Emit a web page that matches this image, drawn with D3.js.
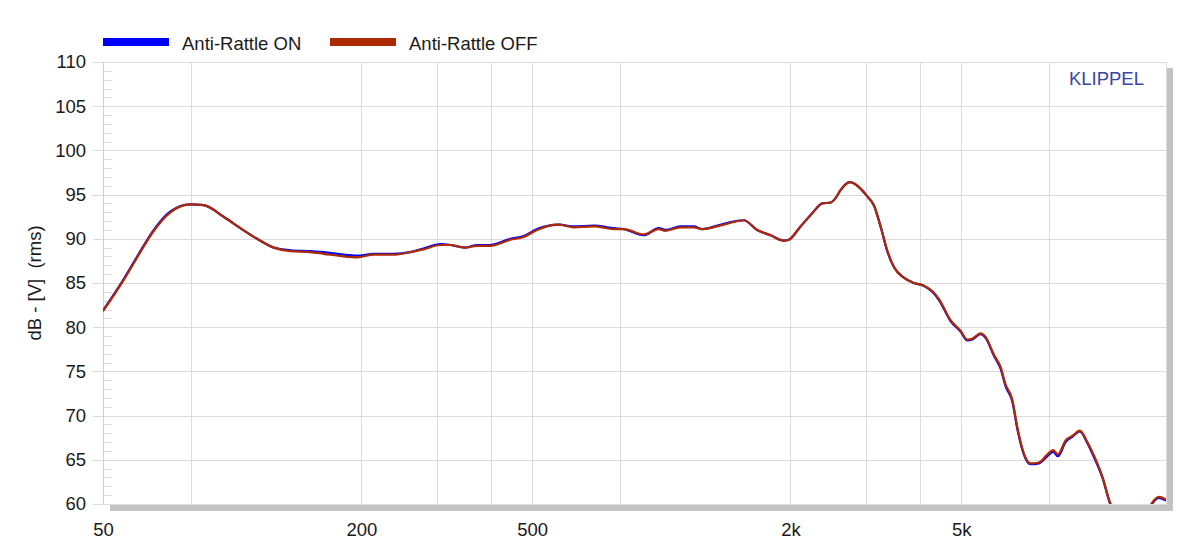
<!DOCTYPE html>
<html><head><meta charset="utf-8">
<script src="https://cdn.jsdelivr.net/npm/d3@7"></script>
<style>
html,body{margin:0;padding:0;background:#fff;}
svg{display:block;font-family:"Liberation Sans",Arial,sans-serif;}
</style></head>
<body>
<svg id="chart" width="1179" height="543"></svg>
<script>
const freqs = [50,55.8,61.1,65,71.8,79.9,85.8,95.5,104.5,114.3,125,136.7,152,163.4,182,195.5,213.7,238,260,279,305.7,322.5,349.5,372,399.5,445,478,513.5,576.6,625,696,775,817.6,910,986,1023,1108,1190,1245,1398,1557,1672,1797,1930,1982,2111,2248,2371,2479,2547,2616,2750,2862,3020,3128,3243,3361,3483,3674,3876,4090,4279,4433,4720,4981,5166,5306,5545,5696,5955,6175,6344,6576,6754,6997,7252,7583,7933,8193,8398,8752,9072,9450,9833,10190,10660,11140,11750,12740,13440,13860,14440,15000];
const offValues = [81.8,85.3,88.5,90.6,93.0,93.9,93.8,92.5,91.2,90.0,89.0,88.6,88.5,88.3,88.0,87.9,88.2,88.2,88.5,88.8,89.3,89.3,89.0,89.2,89.2,89.9,90.2,91.0,91.6,91.3,91.4,91.1,91.1,90.5,91.1,90.9,91.3,91.3,91.1,91.6,92.1,91.0,90.4,89.8,89.9,91.4,92.9,94.0,94.1,94.6,95.5,96.4,96.0,94.8,93.8,91.4,88.7,86.8,85.6,85.0,84.7,84.1,83.2,80.8,79.6,78.6,78.7,79.3,78.9,76.9,75.5,73.5,71.8,68.7,65.7,64.6,64.7,65.6,66.1,65.6,67.2,67.7,68.3,67.0,65.5,63.1,60.0,58.5,57.5,58.8,60.0,60.8,60.5];
const onValues = [81.9,85.4,88.6,90.7,93.1,93.9,93.8,92.5,91.2,90.0,89.0,88.7,88.6,88.5,88.2,88.1,88.3,88.3,88.5,88.9,89.4,89.3,89.0,89.3,89.3,90.0,90.3,91.1,91.6,91.4,91.5,91.2,91.1,90.4,91.2,91.0,91.4,91.4,91.1,91.7,92.1,91.0,90.4,89.8,89.9,91.4,92.9,94.0,94.1,94.6,95.5,96.4,96.0,94.8,93.8,91.4,88.6,86.8,85.6,85.0,84.7,84.0,83.1,80.7,79.5,78.5,78.6,79.2,78.8,76.8,75.3,73.3,71.6,68.5,65.6,64.5,64.6,65.4,65.9,65.4,67.0,67.6,68.2,66.9,65.3,63.0,59.9,58.4,57.4,58.7,59.9,60.7,60.4];
const yTicks = [60,65,70,75,80,85,90,95,100,105,110];
const xGrid = [80,200,300,400,500,800,2000,3000,4000,5000,8000];
const xLabels = [[50,"50"],[200,"200"],[500,"500"],[2000,"2k"],[5000,"5k"]];
const seriesNames = ["Anti-Rattle ON","Anti-Rattle OFF"];
const seriesColors = ["#0000ff","#ad2a00"];

const FS = 18.5;
const L=103, R=1166, T=62, B=504;
const svg = d3.select("#chart");
const x = d3.scaleLog().domain([50,15000]).range([L,R]);
const y = d3.scaleLinear().domain([60,110]).range([B,T]);

// shadow
svg.append("rect").attr("x",110).attr("y",505).attr("width",R+7-110).attr("height",6).attr("fill","#c3c3c3");
svg.append("rect").attr("x",R+1).attr("y",68).attr("width",6).attr("height",B+7-68).attr("fill","#c3c3c3");

// grid
const grid = svg.append("g").attr("stroke","#dcdcdc").attr("stroke-width",1).attr("shape-rendering","crispEdges");
yTicks.forEach(v=>{
  grid.append("line").attr("x1",L-10).attr("x2",R).attr("y1",Math.round(y(v))+0.5).attr("y2",Math.round(y(v))+0.5);
});
xGrid.forEach(v=>{
  grid.append("line").attr("x1",Math.round(x(v))+0.5).attr("x2",Math.round(x(v))+0.5).attr("y1",T).attr("y2",B);
});
// minor ticks
d3.range(60,111,1).filter(v=>v%5!==0).forEach(v=>{
  grid.append("line").attr("x1",L).attr("x2",L+9).attr("y1",Math.round(y(v))+0.5).attr("y2",Math.round(y(v))+0.5);
});
// frame
grid.append("line").attr("x1",L+0.5).attr("x2",L+0.5).attr("y1",T).attr("y2",B+1).attr("stroke","#d0d0d0");
grid.append("line").attr("x1",R+0.5).attr("x2",R+0.5).attr("y1",T).attr("y2",B+1);

// axes labels
const yAxis = d3.axisLeft(y).tickValues(yTicks).tickSize(0).tickPadding(17);
const gy = svg.append("g").attr("transform",`translate(${L},0)`).call(yAxis);
gy.select(".domain").remove();
gy.selectAll("text").attr("font-size",FS).attr("fill","#1a1a1a").attr("font-family","Liberation Sans, Arial, sans-serif");

const xAxis = d3.axisBottom(x).tickValues(xLabels.map(d=>d[0])).tickFormat((d,i)=>xLabels[i][1]).tickSize(0).tickPadding(19);
const gx = svg.append("g").attr("transform",`translate(0,${B})`).call(xAxis);
gx.select(".domain").remove();
gx.selectAll("text").attr("font-size",FS).attr("fill","#1a1a1a").attr("font-family","Liberation Sans, Arial, sans-serif");

svg.append("text").attr("transform",`translate(41,${(T+B)/2}) rotate(-90)`).attr("text-anchor","middle")
  .attr("font-size",FS).attr("fill","#1a1a1a").attr("xml:space","preserve").text("dB - [V]  (rms)");

svg.append("text").attr("x",1144).attr("y",85).attr("text-anchor","end").attr("font-size",FS).attr("fill","#3a45a5").text("KLIPPEL");

// clip
svg.append("clipPath").attr("id","clip").append("rect").attr("x",L).attr("y",T).attr("width",R-L).attr("height",B-T);
const line = d3.line().x(d=>x(d[0])).y(d=>y(d[1])).curve(d3.curveMonotoneX);
const gl = svg.append("g").attr("clip-path","url(#clip)");
[onValues, offValues].forEach((vals,i)=>{
  gl.append("path").datum(freqs.map((f,j)=>[f,vals[j]])).attr("d",line)
    .attr("fill","none").attr("stroke",seriesColors[i]).attr("stroke-width",2.2).attr("stroke-linejoin","round");
});

// legend
const legX = [103,330];
seriesNames.forEach((n,i)=>{
  svg.append("rect").attr("x",legX[i]).attr("y",38).attr("width",66).attr("height",8).attr("fill",seriesColors[i]);
  svg.append("text").attr("x",legX[i]+79).attr("y",49.5).attr("font-size",FS).attr("fill","#1a1a1a").text(n);
});
</script>
</body></html>
